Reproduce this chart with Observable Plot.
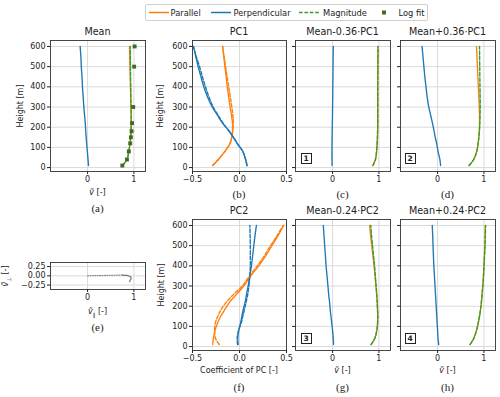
<!DOCTYPE html>
<html><head><meta charset="utf-8">
<script src="https://cdn.jsdelivr.net/npm/d3@7"></script>
<script src="https://cdn.jsdelivr.net/npm/@observablehq/plot@0.6"></script>
<style>
body{margin:0;background:#fff;}
#fig{position:relative;width:500px;height:397px;font-family:"DejaVu Sans",sans-serif;color:#222;overflow:hidden;background:#fff}
.t{position:absolute;white-space:nowrap;transform:translate(-50%,-50%);line-height:1}
.ttl{font-size:9.6px}
.lab{font-size:8px}
.cap{font-family:"Liberation Serif",serif;font-size:11px}
.rot{transform:translate(-50%,-50%) rotate(-90deg)}
.num{position:absolute;width:9px;height:9px;border:1px solid #222;background:#fff;font-size:7.5px;font-weight:bold;text-align:center;line-height:9px}
#leg{position:absolute;left:145px;top:4px;width:281px;height:15px;border:1px solid #cfcfcf;border-radius:2px;background:#fff;font-size:8.3px}
#leg span{position:absolute;top:7.5px;transform:translateY(-50%);white-space:nowrap;line-height:1}
#leg svg{position:absolute;top:0}
</style></head><body><div id="fig"></div><script>
// ---- data ----
const heights = [10, 40, 80, 120, 150, 180, 220, 260, 300, 350, 400, 450, 500, 550, 600];
const heightTicks = [0, 100, 200, 300, 400, 500, 600];
const vTicks = [0, 1];
const pcTicks = [-0.5, 0, 0.5];
const perpTicks = [-0.25, 0, 0.25];

// (a) Mean
const meanPar  = [0.75, 0.85, 0.89, 0.915, 0.93, 0.938, 0.94, 0.94, 0.935, 0.93, 0.925, 0.92, 0.915, 0.91, 0.905];
const meanPerp = [0.02, 0.01, -0.005, -0.02, -0.03, -0.04, -0.05, -0.065, -0.08, -0.095, -0.11, -0.12, -0.135, -0.145, -0.16];
const meanMag  = [0.75, 0.85, 0.89, 0.915, 0.93, 0.939, 0.941, 0.942, 0.938, 0.935, 0.932, 0.928, 0.925, 0.922, 0.92];
const logHeights = [10, 40, 80, 120, 150, 180, 220, 300, 500, 600];
const logFit     = [0.75, 0.85, 0.89, 0.92, 0.935, 0.95, 0.96, 0.985, 1.005, 1.015];

// (b) PC1
const pc1Par      = [-0.285, -0.225, -0.155, -0.1, -0.082, -0.075, -0.075, -0.085, -0.1, -0.115, -0.13, -0.142, -0.155, -0.167, -0.18];
const pc1ParDash  = [-0.285, -0.225, -0.155, -0.1, -0.082, -0.072, -0.066, -0.07, -0.082, -0.098, -0.115, -0.132, -0.148, -0.164, -0.18];
const pc1Perp     = [0.08, 0.065, 0.035, -0.025, -0.065, -0.11, -0.18, -0.235, -0.29, -0.34, -0.38, -0.41, -0.44, -0.465, -0.49];
const pc1PerpDash = [0.08, 0.065, 0.035, -0.025, -0.065, -0.11, -0.175, -0.228, -0.28, -0.325, -0.362, -0.395, -0.425, -0.46, -0.49];

// (c) Mean-0.36·PC1
const cPar  = [0.87, 0.925, 0.95, 0.962, 0.968, 0.972, 0.975, 0.975, 0.975, 0.975, 0.975, 0.976, 0.978, 0.979, 0.98];
const cPerp = [-0.01, -0.012, -0.013, -0.012, -0.01, -0.008, -0.005, -0.002, 0.0, 0.003, 0.005, 0.008, 0.01, 0.012, 0.015];
const cMag  = [0.87, 0.925, 0.95, 0.962, 0.968, 0.972, 0.975, 0.975, 0.975, 0.975, 0.975, 0.976, 0.978, 0.979, 0.98];

// (d) Mean+0.36·PC1
const dPar  = [0.68, 0.78, 0.845, 0.875, 0.89, 0.9, 0.905, 0.905, 0.9, 0.89, 0.88, 0.87, 0.86, 0.85, 0.84];
const dPerp = [0.065, 0.05, 0.01, -0.02, -0.05, -0.075, -0.11, -0.15, -0.19, -0.225, -0.25, -0.275, -0.295, -0.315, -0.335];
const dMag  = [0.68, 0.78, 0.845, 0.875, 0.891, 0.903, 0.912, 0.917, 0.92, 0.918, 0.915, 0.912, 0.91, 0.907, 0.905];

// (f) PC2
const pc2Par      = [-0.285, -0.278, -0.26, -0.23, -0.2, -0.16, -0.105, -0.03, 0.045, 0.12, 0.205, 0.28, 0.345, 0.41, 0.47];
const pc2ParDash  = [-0.215, -0.255, -0.265, -0.255, -0.23, -0.2, -0.14, -0.06, 0.03, 0.105, 0.19, 0.265, 0.33, 0.4, 0.465];
const pc2Perp     = [-0.015, -0.018, -0.008, 0.013, 0.025, 0.038, 0.06, 0.075, 0.092, 0.11, 0.127, 0.14, 0.152, 0.165, 0.18];
const pc2PerpDash = [-0.02, -0.025, -0.01, 0.02, 0.035, 0.05, 0.07, 0.088, 0.1, 0.11, 0.115, 0.115, 0.115, 0.113, 0.11];

// (g) Mean-0.24·PC2
const gPar  = [0.83, 0.91, 0.955, 0.972, 0.975, 0.97, 0.962, 0.95, 0.935, 0.915, 0.895, 0.87, 0.845, 0.82, 0.8];
const gPerp = [0.02, 0.015, 0.0, -0.02, -0.035, -0.05, -0.065, -0.085, -0.1, -0.12, -0.14, -0.155, -0.17, -0.185, -0.2];
const gMag  = [0.83, 0.91, 0.955, 0.972, 0.976, 0.971, 0.964, 0.954, 0.94, 0.923, 0.906, 0.884, 0.862, 0.841, 0.825];

// (h) Mean+0.24·PC2
const hPar  = [0.7, 0.78, 0.84, 0.88, 0.905, 0.925, 0.945, 0.96, 0.975, 0.99, 1.0, 1.01, 1.02, 1.025, 1.03];
const hPerp = [0.025, 0.01, 0.0, -0.01, -0.018, -0.025, -0.035, -0.045, -0.055, -0.068, -0.08, -0.09, -0.098, -0.105, -0.115];
const hMag  = [0.7, 0.78, 0.84, 0.88, 0.905, 0.925, 0.946, 0.961, 0.977, 0.992, 1.003, 1.014, 1.025, 1.03, 1.036];

// (e) hodograph start segment (origin to lowest level)
const hodoStartPar  = [0, meanPar[0]];
const hodoStartPerp = [0, meanPerp[0]];

// ---- styles ----
const ORANGE = "#ff7f0e", BLUE = "#1f77b4", GREEN = "#2ca02c", LOGC = "#3f6b25";
const fig = document.getElementById("fig");

function prof(vals, stroke, dash) {
  return Plot.line(heights, {x: vals, y: heights, stroke, strokeWidth: dash ? 1.4 : 1.35,
    strokeDasharray: dash ? "3.6,1.8" : null, curve: "catmull-rom"});
}

function panel({fx, fy, fw, fh, xdom, ydom, xticks, xfmt, yticks, yfmt, marks}) {
  const mL = 32, mR = 10, mT = 4, mB = 16;
  const p = Plot.plot({
    width: mL + fw + mR, height: mT + fh + mB,
    marginLeft: mL, marginRight: mR, marginTop: mT, marginBottom: mB,
    style: {background: "none", fontSize: "8px", fontFamily: "DejaVu Sans", color: "#222", overflow: "visible"},
    x: {domain: xdom, ticks: xticks, tickFormat: xfmt, tickSize: 3, tickPadding: 2, label: null},
    y: {domain: ydom, ticks: yticks, tickFormat: yfmt, tickSize: 3, tickPadding: 2, label: null},
    marks: [
      Plot.ruleX(xticks, {x: d => d, stroke: "#dadada", strokeWidth: 1}),
      Plot.ruleY(yticks, {y: d => d, stroke: "#dadada", strokeWidth: 1}),
      ...marks,
      Plot.frame({stroke: "#333", strokeWidth: 0.9})
    ]
  });
  p.style.position = "absolute";
  p.style.left = (fx - mL) + "px";
  p.style.top = (fy - mT) + "px";
  p.style.maxWidth = "none";
  fig.appendChild(p);
}

const yDom = [-19.5, 629.5], vDom = [-0.8, 1.25], pcDom = [-0.5, 0.5];
const fInt = d3.format("d"), fOne = d3.format(".1f"), fTwo = d3.format(".2f"), none = () => "";

// (a)
panel({fx: 50, fy: 40, fw: 95, fh: 131, xdom: vDom, ydom: yDom, xticks: vTicks, xfmt: fInt, yticks: heightTicks, yfmt: fInt,
  marks: [prof(meanPerp, BLUE), prof(meanPar, ORANGE), prof(meanMag, GREEN, true),
    Plot.dot(logHeights, {x: logFit, y: logHeights, symbol: "square", r: 2.2, fill: LOGC, stroke: "none"})]});
// (b)
panel({fx: 192, fy: 40, fw: 94, fh: 131, xdom: pcDom, ydom: yDom, xticks: pcTicks, xfmt: fOne, yticks: heightTicks, yfmt: fInt,
  marks: [prof(pc1Par, ORANGE), prof(pc1Perp, BLUE), prof(pc1ParDash, ORANGE, true), prof(pc1PerpDash, BLUE, true)]});
// (c)
panel({fx: 295, fy: 40, fw: 95, fh: 131, xdom: vDom, ydom: yDom, xticks: vTicks, xfmt: fInt, yticks: heightTicks, yfmt: none,
  marks: [prof(cPerp, BLUE), prof(cPar, ORANGE), prof(cMag, GREEN, true)]});
// (d)
panel({fx: 400, fy: 40, fw: 95, fh: 131, xdom: vDom, ydom: yDom, xticks: vTicks, xfmt: fInt, yticks: heightTicks, yfmt: none,
  marks: [prof(dPerp, BLUE), prof(dPar, ORANGE), prof(dMag, GREEN, true)]});
// (e)
panel({fx: 50, fy: 262, fw: 95, fh: 27, xdom: vDom, ydom: [-0.37, 0.36], xticks: vTicks, xfmt: fInt, yticks: perpTicks, yfmt: fTwo,
  marks: [
    Plot.line(hodoStartPar, {x: hodoStartPar, y: hodoStartPerp, stroke: "#777", strokeWidth: 1, strokeDasharray: "1,1.4"}),
    Plot.line(meanPar, {x: meanPar, y: meanPerp, stroke: "#777", strokeWidth: 1.2, curve: "catmull-rom"})]});
// (f)
panel({fx: 192, fy: 219, fw: 94, fh: 131, xdom: pcDom, ydom: yDom, xticks: pcTicks, xfmt: fOne, yticks: heightTicks, yfmt: fInt,
  marks: [prof(pc2Par, ORANGE), prof(pc2Perp, BLUE), prof(pc2ParDash, ORANGE, true), prof(pc2PerpDash, BLUE, true)]});
// (g)
panel({fx: 295, fy: 219, fw: 95, fh: 131, xdom: vDom, ydom: yDom, xticks: vTicks, xfmt: fInt, yticks: heightTicks, yfmt: none,
  marks: [prof(gPerp, BLUE), prof(gPar, ORANGE), prof(gMag, GREEN, true)]});
// (h)
panel({fx: 400, fy: 219, fw: 95, fh: 131, xdom: vDom, ydom: yDom, xticks: vTicks, xfmt: fInt, yticks: heightTicks, yfmt: none,
  marks: [prof(hPerp, BLUE), prof(hPar, ORANGE), prof(hMag, GREEN, true)]});

// ---- text ----
function txt(html, x, y, cls) {
  const d = document.createElement("div");
  d.className = "t " + cls;
  d.innerHTML = html;
  d.style.left = x + "px"; d.style.top = y + "px";
  fig.appendChild(d);
}
const vt = "<i>ṽ</i> [-]";
txt("Mean", 97.5, 32, "ttl"); txt("PC1", 239, 32, "ttl");
txt("Mean-0.36·PC1", 342.5, 32, "ttl"); txt("Mean+0.36·PC1", 447.5, 32, "ttl");
txt("PC2", 239, 211, "ttl"); txt("Mean-0.24·PC2", 342.5, 211, "ttl"); txt("Mean+0.24·PC2", 447.5, 211, "ttl");
txt(vt, 97.5, 193, "lab");
txt("Coefficient of PC [-]", 239, 371, "lab");
txt(vt, 342.5, 371, "lab"); txt(vt, 447.5, 371, "lab");
txt("<i>ṽ</i><sub style='font-size:5.5px'>∥</sub> [-]", 97.5, 313, "lab");
txt("Height [m]", 20.5, 105.5, "lab rot"); txt("Height [m]", 161, 105.5, "lab rot"); txt("Height [m]", 162, 284.5, "lab rot");
txt("<i>ṽ</i><sub style='font-size:5.5px'>⊥</sub> [-]", 7, 275.5, "lab rot");
txt("(a)", 97.5, 208, "cap"); txt("(b)", 239, 193.5, "cap"); txt("(c)", 342.5, 193.5, "cap"); txt("(d)", 447.5, 193.5, "cap");
txt("(e)", 97.5, 327, "cap"); txt("(f)", 239, 387, "cap"); txt("(g)", 342.5, 387, "cap"); txt("(h)", 447.5, 387, "cap");

[["1", 300.5, 153], ["2", 404.5, 153], ["3", 300.5, 332.5], ["4", 404.5, 332.5]].forEach(([n, x, y]) => {
  const d = document.createElement("div"); d.className = "num"; d.textContent = n;
  d.style.left = x + "px"; d.style.top = y + "px"; fig.appendChild(d);
});

// ---- legend ----
const leg = document.createElement("div"); leg.id = "leg"; fig.appendChild(leg);
function swatch(x, color, dash, marker) {
  const s = document.createElementNS("http://www.w3.org/2000/svg", "svg");
  s.setAttribute("width", 22); s.setAttribute("height", 15);
  s.style.left = x + "px";
  s.innerHTML = marker
    ? `<rect x="9" y="5.5" width="4" height="4" fill="${color}"/>`
    : `<line x1="1" x2="21" y1="7.5" y2="7.5" stroke="${color}" stroke-width="1.5" ${dash ? 'stroke-dasharray="3.6,1.8"' : ""}/>`;
  leg.appendChild(s);
}
function ltxt(t, x) { const s = document.createElement("span"); s.textContent = t; s.style.left = x + "px"; leg.appendChild(s); }
swatch(1.5, ORANGE); ltxt("Parallel", 24.5);
swatch(63.5, BLUE); ltxt("Perpendicular", 87.5);
swatch(151.5, GREEN, true); ltxt("Magnitude", 177);
swatch(226.5, LOGC, false, true); ltxt("Log fit", 252.5);
</script></body></html>
